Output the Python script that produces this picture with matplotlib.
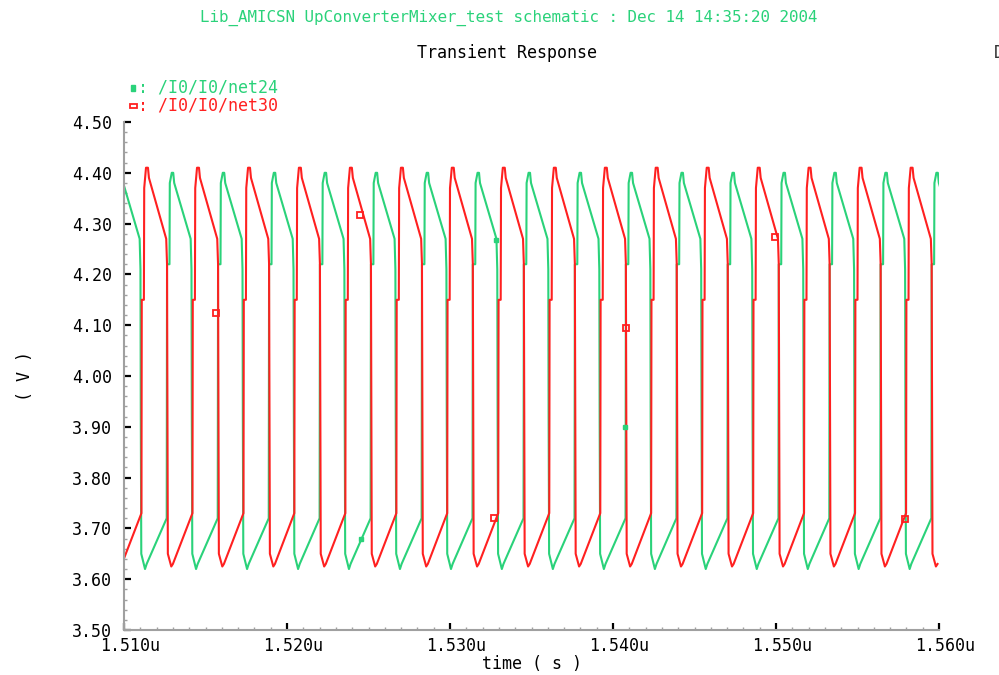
import matplotlib
matplotlib.use('Agg')
import numpy as np
import matplotlib.pyplot as plt
from matplotlib.patches import Rectangle
from matplotlib.ticker import MultipleLocator, FuncFormatter
from matplotlib.transforms import ScaledTranslation

plt.rcParams['font.family'] = 'DejaVu Sans Mono'

GREEN = '#2ad27a'
RED = '#ff2020'

# peak time of every oscillation cycle (ns)
RED_PEAKS = [1508.31, 1511.44, 1514.57, 1517.70, 1520.82, 1523.95, 1527.08,
             1530.20, 1533.33, 1536.46, 1539.59, 1542.71, 1545.84, 1548.97,
             1552.09, 1555.22, 1558.35]
GREEN_PEAKS = [1506.73, 1509.86, 1512.99, 1516.12, 1519.25, 1522.37, 1525.50,
               1528.63, 1531.75, 1534.88, 1538.01, 1541.14, 1544.26, 1547.39,
               1550.52, 1553.64, 1556.77, 1559.90]

# one cycle of each trace: offset from the peak (ns) and level (V)
RED_OFFSETS = [-0.37, -0.35, -0.22, -0.20, -0.09, 0.03, 0.09, 1.15, 1.20,
               1.22, 1.25, 1.46, 1.56]
RED_VOLTS = [3.73, 4.15, 4.15, 4.37, 4.41, 4.41, 4.39, 4.27, 4.22,
             3.96, 3.65, 3.625, 3.63]
GREEN_OFFSETS = [-0.37, -0.35, -0.20, -0.18, -0.06, 0.03, 0.09, 1.10, 1.15,
                 1.17, 1.20, 1.43, 1.53]
GREEN_VOLTS = [3.72, 4.22, 4.22, 4.38, 4.40, 4.40, 4.38, 4.27, 4.21,
               3.92, 3.65, 3.62, 3.63]

# trace markers (time ns, V)
RED_MARK_T = [1515.64, 1524.48, 1532.70, 1540.80, 1549.94, 1557.91]
RED_MARK_V = [4.124, 4.316, 3.721, 4.095, 4.273, 3.719]
GREEN_MARK_T = [1524.54, 1532.82, 1540.74]
GREEN_MARK_V = [3.68, 4.267, 3.90]


def build_trace(peaks, offsets, volts):
    t = np.concatenate([p + np.array(offsets) for p in peaks])
    v = np.tile(volts, len(peaks))
    return t, v


W, H = 999, 675
fig = plt.figure(figsize=(W / 100, H / 100), dpi=100)
ax = fig.add_axes([124 / W, 1 - 630 / H, (939 - 124) / W, (630 - 122) / H])

t, v = build_trace(GREEN_PEAKS, GREEN_OFFSETS, GREEN_VOLTS)
ax.plot(t, v, color=GREEN, lw=1.5)
t, v = build_trace(RED_PEAKS, RED_OFFSETS, RED_VOLTS)
ax.plot(t, v, color=RED, lw=1.5)

ax.plot(GREEN_MARK_T, GREEN_MARK_V, ls='none', marker='s', ms=3,
        color=GREEN)
ax.plot(RED_MARK_T, RED_MARK_V, ls='none', marker='s', ms=5,
        mfc='none', mec=RED, mew=1.3)

ax.set_xlim(1510, 1560)
ax.set_ylim(3.5, 4.5)

for side in ('top', 'right'):
    ax.spines[side].set_visible(False)
for side in ('left', 'bottom'):
    ax.spines[side].set_color('#a0a0a0')
    ax.spines[side].set_linewidth(1.5)

ax.xaxis.set_major_locator(MultipleLocator(10))
ax.xaxis.set_minor_locator(MultipleLocator(1))
ax.yaxis.set_major_locator(MultipleLocator(0.1))
ax.yaxis.set_minor_locator(MultipleLocator(0.02))
ax.xaxis.set_major_formatter(FuncFormatter(lambda x, _: f'{x / 1000:.3f}u'))
ax.yaxis.set_major_formatter(FuncFormatter(lambda y, _: f'{y:.2f}'))

ax.tick_params(which='major', direction='in', length=5, width=1.6,
               color='black', labelsize=12, pad=8.5)
ax.tick_params(which='minor', direction='in', length=2.5, width=1,
               color='#a0a0a0')
ax.tick_params(axis='x', which='major', pad=5)

# time labels sit a little right of their ticks
shift = ScaledTranslation(6 / 100, 0, fig.dpi_scale_trans)
for lbl in ax.get_xticklabels():
    lbl.set_transform(lbl.get_transform() + shift)

ax.set_xlabel('time ( s )', fontsize=12, labelpad=0)
ax.set_ylabel('( V )', fontsize=12)
ax.yaxis.set_label_coords(-90 / (939 - 124), 0.5)

fig.text(509 / W, 1 - 18 / H,
         'Lib_AMICSN UpConverterMixer_test schematic : Dec 14 14:35:20 2004',
         color=GREEN, fontsize=11.4, ha='center', va='center')
fig.text(507 / W, 1 - 53 / H, 'Transient Response', fontsize=12,
         ha='center', va='center')
fig.text(994 / W, 1 - 53 / H, 'D', fontsize=12, color='#333333',
         ha='left', va='center')

# legend rows
fig.patches.append(Rectangle((131 / W, 1 - 91 / H), 4 / W, 6 / H,
                             transform=fig.transFigure, color=GREEN))
fig.text(138 / W, 1 - 88 / H, ': /I0/I0/net24', color=GREEN, fontsize=12,
         ha='left', va='center')
fig.patches.append(Rectangle((130 / W, 1 - 108 / H), 7 / W, 4 / H,
                             transform=fig.transFigure, fill=False,
                             ec=RED, lw=1.3))
fig.text(138 / W, 1 - 105 / H, ': /I0/I0/net30', color=RED, fontsize=12,
         ha='left', va='center')

fig.savefig('out.png', dpi=100)
